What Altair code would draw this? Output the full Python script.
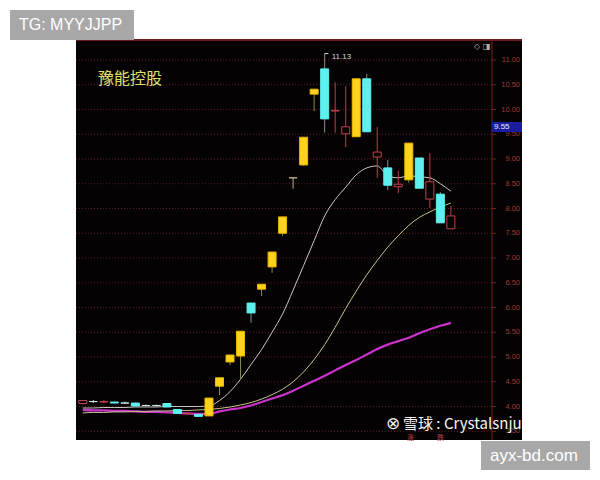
import altair as alt
import pandas as pd

# ---------------- data ----------------
idx = list(range(36))
opens  = [4.06, 4.10, 4.09, 4.09, 4.07, 4.07, 4.02, 4.02, 4.06, 3.94, 3.85, 3.84,
          3.81, 4.41, 4.90, 5.02, 6.09, 6.37, 6.82, 7.50, 8.62, 8.88, 10.31, 10.82,
          9.97, 9.51, 9.45, 10.62, 9.04, 8.82, 8.44, 8.58, 9.02, 8.19, 8.29, 7.59]
closes = [4.12, 4.10, 4.10, 4.07, 4.07, 4.01, 4.02, 4.02, 3.99, 3.86, 3.86, 3.80,
          4.17, 4.58, 5.04, 5.52, 5.89, 6.47, 7.12, 7.83, 8.62, 9.44, 10.41, 9.81,
          9.98, 9.65, 10.62, 9.55, 9.14, 8.47, 8.49, 9.32, 8.41, 8.54, 7.71, 7.85]
highs  = [4.13, 4.13, 4.13, 4.10, 4.10, 4.08, 4.04, 4.04, 4.07, 3.95, 3.87, 3.85,
          4.17, 4.58, 5.04, 5.52, 6.09, 6.47, 7.12, 7.83, 8.62, 9.44, 10.41, 11.13,
          10.55, 10.47, 10.62, 10.72, 9.65, 8.98, 8.76, 9.32, 9.02, 9.12, 8.33, 8.05]
lows   = [4.04, 4.07, 4.07, 4.06, 4.05, 4.00, 4.00, 4.00, 3.98, 3.85, 3.84, 3.79,
          3.81, 4.23, 4.84, 4.56, 5.69, 6.23, 6.70, 7.44, 8.40, 8.86, 9.97, 9.53,
          9.53, 9.24, 9.45, 9.55, 8.62, 8.37, 8.31, 8.52, 8.41, 8.01, 7.71, 7.59]
kinds  = ["red", "doji", "red", "cyan", "doji", "cyan", "doji", "doji", "cyan", "cyan", "red", "cyan",
          "yellow", "yellow", "yellow", "yellow", "cyan", "yellow", "yellow", "yellow", "tee", "yellow", "yellow", "cyan",
          "red", "red", "yellow", "cyan", "red", "cyan", "red", "yellow", "cyan", "red", "cyan", "red"]

ma_gray = [3.97, 3.97, 3.98, 3.98, 3.98, 3.99, 3.99, 3.99, 4.00, 4.00, 4.00, 4.00,
           4.01, 4.12, 4.30, 4.55, 4.85, 5.15, 5.50, 5.87, 6.35, 6.85, 7.35, 7.85,
           8.18, 8.43, 8.68, 8.82, 8.86, 8.66, 8.62, 8.66, 8.64, 8.62, 8.50, 8.35]
ma_tan  = [3.87, 3.88, 3.88, 3.89, 3.89, 3.90, 3.90, 3.91, 3.91, 3.92, 3.92, 3.93,
           3.94, 3.96, 3.99, 4.03, 4.08, 4.15, 4.24, 4.35, 4.50, 4.70, 4.95, 5.25,
           5.60, 5.98, 6.33, 6.66, 6.95, 7.22, 7.45, 7.66, 7.82, 7.93, 8.03, 8.11]
ma_mag  = [3.93, 3.92, 3.92, 3.91, 3.91, 3.90, 3.89, 3.89, 3.88, 3.87, 3.86, 3.85,
           3.85, 3.90, 3.94, 3.97, 4.02, 4.09, 4.16, 4.23, 4.32, 4.42, 4.52, 4.62,
           4.73, 4.84, 4.94, 5.05, 5.16, 5.25, 5.32, 5.39, 5.48, 5.56, 5.63, 5.69]

grid_prices = [3.5, 4.0, 4.5, 5.0, 5.5, 6.0, 6.5, 7.0, 7.5, 8.0, 8.5, 9.0, 9.5, 10.0, 10.5, 11.0]
grid_labels = ["%.2f" % v for v in grid_prices]

stock_name = "豫能控股"
high_label = "11.13"
high_value = 11.13
high_index = 23
last_label = "9.55"

# ---------------- build ----------------
W, H = 584, 462
# x: page_x = 79 + 10.7*i  -> plot_x = 71 + 10.7*i
XS = alt.Scale(domain=[-71 / 10.7, (W - 71) / 10.7], nice=False, zero=False)
# y: page_y = 60 + 49.5*(11-p) -> plot_y = 52 + 49.5*(11-p)
YS = alt.Scale(domain=[11 - (H - 52) / 49.5, 11 + 52 / 49.5], nice=False, zero=False)

df = pd.DataFrame({"i": idx, "o": opens, "c": closes, "h": highs, "l": lows, "k": kinds})
df["top"] = df[["o", "c"]].max(axis=1)
df["bot"] = df[["o", "c"]].min(axis=1)

one = pd.DataFrame({"a": [0]})

def box(x, x2, y, y2, fill):
    return alt.Chart(one).mark_rect(fill=fill).encode(
        x=alt.value(x), x2=alt.value(x2), y=alt.value(y), y2=alt.value(y2))

def label(t, x, y, size, color, align="left", font="Noto Sans", weight="normal"):
    return alt.Chart(pd.DataFrame({"t": [t]})).mark_text(
        align=align, baseline="middle", fontSize=size, color=color, font=font, fontWeight=weight
    ).encode(x=alt.value(x), y=alt.value(y), text="t:N")

X = alt.X("i:Q", scale=XS, axis=None)

panel = box(68, 514, 32, 432, "#050203")
topline = alt.Chart(one).mark_rule(color="#6a1a1a", strokeWidth=2).encode(
    x=alt.value(68), x2=alt.value(514), y=alt.value(32))
axisline = alt.Chart(one).mark_rule(color="#7a1e1e", strokeWidth=1).encode(
    x=alt.value(484), y=alt.value(32), y2=alt.value(432))

gdf = pd.DataFrame({"p": grid_prices, "lab": grid_labels})
grid = alt.Chart(gdf).mark_rule(color="#5e1c1c", strokeWidth=1, strokeDash=[1, 2]).encode(
    x=alt.value(68), x2=alt.value(484), y=alt.Y("p:Q", scale=YS, axis=None))
ticks = alt.Chart(gdf).mark_rule(color="#7a1e1e").encode(
    x=alt.value(484), x2=alt.value(488), y=alt.Y("p:Q", scale=YS, axis=None))
ticklab = alt.Chart(gdf).mark_text(align="right", baseline="middle", fontSize=7.5,
                                   color="#9c3a3a", font="Liberation Sans").encode(
    x=alt.value(512), y=alt.Y("p:Q", scale=YS, axis=None), text="lab:N")

def line(vals, color, w):
    d = pd.DataFrame({"i": idx, "v": vals})
    return alt.Chart(d).mark_line(color=color, strokeWidth=w, interpolate="monotone").encode(
        x=X, y=alt.Y("v:Q", scale=YS, axis=None))

mag = line(ma_mag, "#cc33cc", 2.2)
tan = line(ma_tan, "#c9c28e", 1)
gray = line(ma_gray, "#c8c8c2", 1)

kind_dom = ["red", "doji", "cyan", "yellow", "tee"]
wick_color = alt.Color("k:N", scale=alt.Scale(
    domain=kind_dom, range=["#b8404a", "#b0c8c8", "#7f9090", "#8a8a4e", "#c0b080"]), legend=None)
wicks = alt.Chart(df).mark_rule(strokeWidth=1).encode(
    x=X, y=alt.Y("l:Q", scale=YS, axis=None), y2="h:Q", color=wick_color)

fill_scale = alt.Scale(domain=kind_dom,
                       range=["#050203", "#c8e8e8", "#5ef0ee", "#ffd21c", "#c0b080"])
stroke_scale = alt.Scale(domain=kind_dom,
                         range=["#c0404c", "#c8e8e8", "#5ef0ee", "#f0b800", "#c0b080"])
bodies = alt.Chart(df).mark_bar(size=8, strokeWidth=1).encode(
    x=X, y=alt.Y("bot:Q", scale=YS, axis=None), y2="top:Q",
    fill=alt.Fill("k:N", scale=fill_scale, legend=None),
    stroke=alt.Stroke("k:N", scale=stroke_scale, legend=None))

hdf = pd.DataFrame({"i": [high_index], "p": [high_value], "t": [high_label]})
hightick = alt.Chart(hdf).mark_rule(color="#d8d8d8", strokeWidth=1).encode(
    x=X, x2=alt.X2("i2:Q"), y=alt.Y("p:Q", scale=YS, axis=None)
).transform_calculate(i2="datum.i + 0.35")
hightxt = alt.Chart(hdf).mark_text(align="left", baseline="middle", fontSize=8,
                                   color="#d8d8d8", font="Liberation Sans", dx=7, dy=3).encode(
    x=X, y=alt.Y("p:Q", scale=YS, axis=None), text="t:N")

name = label(stock_name, 90, 71, 16, "#e0e070", font="Noto Sans CJK SC")
icons = label("◇ ◨", 466, 39, 8, "#b0b0b0", font="DejaVu Sans")
lastbox = box(484, 514, 114, 124, "#1c1c9e")
lasttxt = label(last_label, 486, 119, 8, "#e8e8ff", font="Liberation Sans")

wm_logo = label("⊗", 378, 416, 17, "#f0f0f0", font="DejaVu Sans")
wm_text = label("雪球 : Crystalsnju", 395, 416, 15, "#f4f4f4", font="Noto Sans CJK SC")
wm_r1 = label("涨", 399, 430, 7, "#c0404c", font="Noto Sans CJK SC")
wm_r2 = label("跌", 429, 430, 7, "#c0404c", font="Noto Sans CJK SC")

tgbox = box(2, 126, 2, 32, "#a8a8a8")
tgtxt = label("TG: MYYJJPP", 11, 17, 16, "#ffffff", font="Liberation Sans")
sitebox = box(473, 582, 433, 462, "#a8a8a8")
sitetxt = label("ayx-bd.com", 482, 448, 17, "#ffffff", font="Liberation Sans")

chart = alt.layer(
    panel, grid, ticks, topline, axisline, ticklab,
    mag, tan, gray, wicks, bodies, hightick, hightxt,
    name, icons, lastbox, lasttxt,
    wm_logo, wm_text, wm_r1, wm_r2,
    tgbox, tgtxt, sitebox, sitetxt
).properties(width=W, height=H, background="white", padding=0,
             autosize=alt.AutoSizeParams(type="none")
).configure_view(stroke=None)

chart.save("out.html", embed_options={"renderer": "svg", "actions": False})
